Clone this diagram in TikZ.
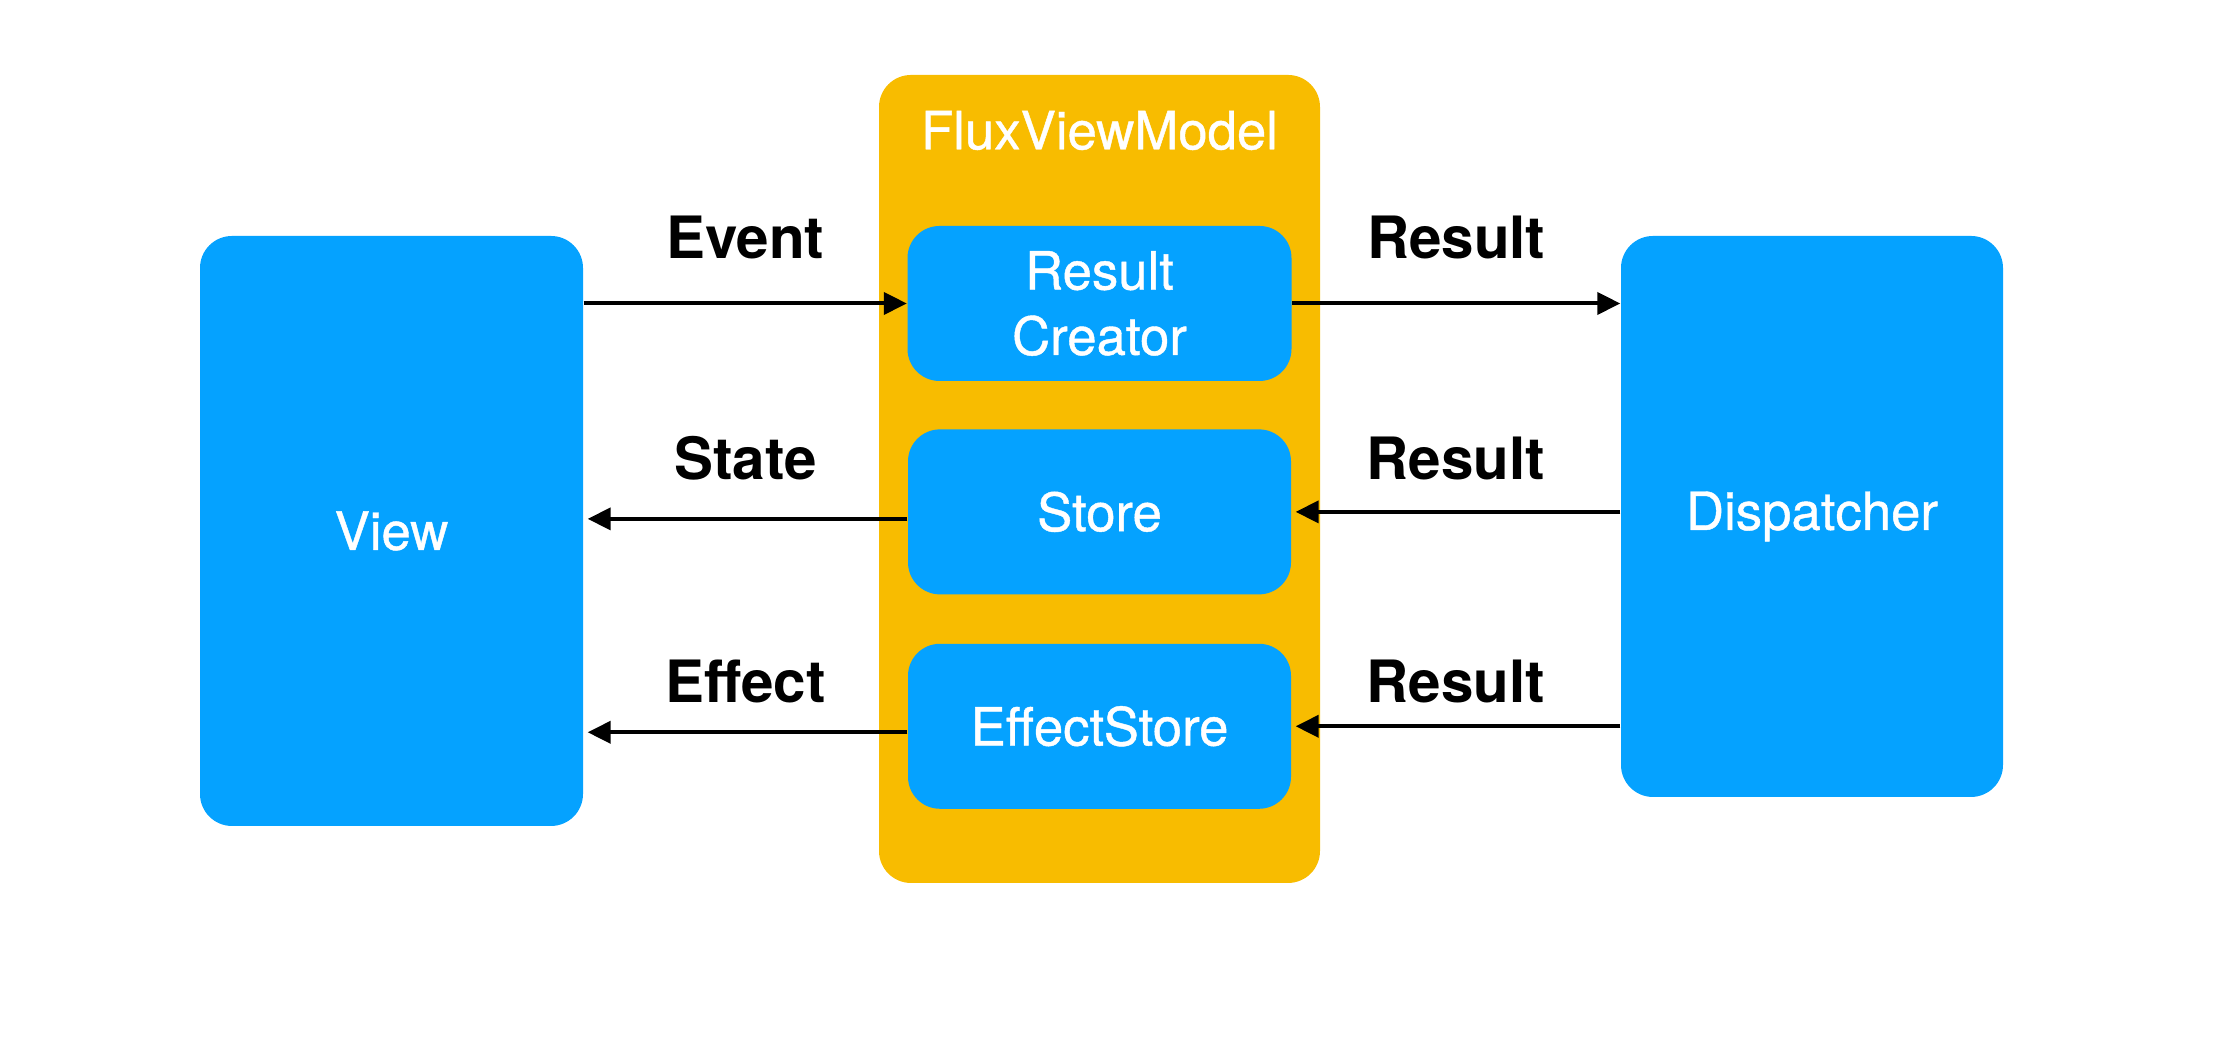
\documentclass[tikz,border=0pt]{standalone}
\usepackage{fontspec}
\setmainfont{TeX Gyre Heros}
\newfontfamily\boxfont[FakeBold=0.8]{TeX Gyre Heros}
\usepackage{tikz}
\usetikzlibrary{positioning}
\usetikzlibrary{arrows.meta}
\definecolor{boxblue}{RGB}{5,162,255}
\definecolor{vmorange}{RGB}{248,188,0}
\tikzset{
  bluebox/.style={fill=boxblue, rounded corners=0.32cm, text=white, align=center,
    inner sep=0pt, font=\boxfont\fontsize{15}{18.6}\selectfont},
  vmbox/.style={fill=vmorange, rounded corners=0.32cm, inner sep=0pt},
  flow/.style={-{Triangle[length=0.23cm,width=0.22cm]}, line width=0.04cm},
  flowlabel/.style={font=\bfseries\fontsize{16.6}{20}\selectfont, inner sep=0pt, text depth=0pt},
}

\begin{document}
\begin{tikzpicture}
      \useasboundingbox (0,0) rectangle (22.3,10.46);

      \node(VM) [vmbox, minimum width=4.41cm, minimum height=8.08cm] at (10.995,5.67) {};
      \node(VMtitle) [anchor=base, text=white, font=\boxfont\fontsize{15}{18}\selectfont, inner sep=0pt]
        at ([yshift=-0.75cm]VM.north) {FluxViewModel};
      \node(View) [bluebox, minimum width=3.83cm, minimum height=5.90cm] at (3.915,5.15) {View};
      \node(Disp) [bluebox, minimum width=3.82cm, minimum height=5.61cm] at (18.12,5.295) {Dispatcher};
      \node(RC) [bluebox, minimum width=3.84cm, minimum height=1.55cm, below=1.51cm of VM.north] {Result\\Creator};
      \node(Store) [bluebox, minimum width=3.83cm, minimum height=1.65cm, below=0.47cm of RC] {Store};
      \node(ES) [bluebox, minimum width=3.83cm, minimum height=1.65cm, below=0.48cm of Store] {EffectStore};

      \coordinate(stateR) at ([yshift=-0.07cm]Store.west);
      \coordinate(effectR) at ([yshift=-0.06cm]ES.west);

      \draw[flow] (RC.west -| View.east) -- node[flowlabel, above=0.43cm] {Event} (RC.west);
      \draw[flow] (RC.east) -- node[flowlabel, above=0.43cm] {Result} (RC.east -| Disp.west);
      \draw[flow, shorten >=0.04cm] (stateR) -- node[flowlabel, above=0.37cm] {State} (stateR -| View.east);
      \draw[flow, shorten >=0.04cm] (Store.east -| Disp.west) -- node[flowlabel, above=0.30cm] {Result} (Store.east);
      \draw[flow, shorten >=0.04cm] (effectR) -- node[flowlabel, above=0.28cm] {Effect} (effectR -| View.east);
      \draw[flow, shorten >=0.04cm] (ES.east -| Disp.west) -- node[flowlabel, above=0.22cm] {Result} (ES.east);
    \end{tikzpicture}
\end{document}
